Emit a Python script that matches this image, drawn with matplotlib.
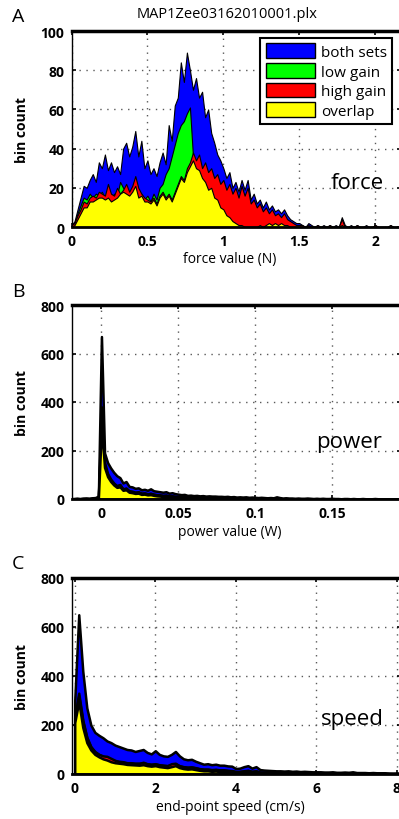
import numpy as np
import matplotlib
matplotlib.use('Agg')
import matplotlib.pyplot as plt
from matplotlib.patches import Patch

plt.rcParams['font.family'] = ['Open Sans', 'DejaVu Sans']

W, H = 399, 820

### series names / colours
names = ['both sets', 'low gain', 'high gain', 'overlap']
colors = ['#0000ff', '#00ff00', '#ff0000', '#ffff00']

### A: force histogram, bins of 0.02 N
force_bins = np.round(np.arange(108) * 0.02, 2)
force_both = [1, 3, 9, 15, 21, 20, 24, 27, 23, 33, 30, 37, 29, 33, 28, 31, 27, 40, 43, 36,
              41, 49, 36, 44, 30, 34, 27, 30, 26, 33, 38, 32, 52, 44, 62, 66, 84, 74, 89, 80,
              70, 76, 66, 69, 56, 60, 48, 43, 37, 34, 30, 25, 28, 20, 23, 18, 24, 19, 24, 14,
              17, 12, 14, 10, 13, 9, 11, 8, 9, 7, 9, 6, 4, 3, 2, 2, 1, 0, 2, 1,
              0, 1, 0, 1, 0, 1, 0, 1, 0, 5, 1, 0, 1, 0, 1, 0, 0, 1, 0, 0,
              1, 0, 0, 0, 0, 1, 0, 0]
force_low = [1, 2, 7, 11, 15, 14, 17, 15, 17, 16, 18, 15, 17, 14, 17, 16, 23, 20, 18, 17,
             19, 22, 16, 17, 14, 16, 13, 17, 14, 20, 22, 27, 30, 36, 42, 48, 52, 54, 58, 61,
             36, 32, 30, 26, 24, 20, 22, 17, 15, 11, 9, 6, 5, 3, 2, 1, 1, 0, 1, 0,
             1, 0, 1, 0, 1, 2, 1, 2, 1, 2, 1, 1, 0, 0, 0, 0, 0, 0, 0, 0,
             0, 0, 0, 0, 0, 0, 0, 0, 0, 1, 0, 0, 0, 0, 0, 0, 0, 0, 0, 0,
             0, 0, 0, 0, 0, 0, 0, 0]
force_high = [1, 2, 6, 9, 13, 12, 15, 16, 15, 18, 17, 16, 22, 17, 16, 20, 17, 19, 22, 18,
              21, 26, 20, 17, 15, 14, 13, 15, 12, 16, 18, 15, 17, 14, 18, 22, 26, 24, 30, 33,
              38, 34, 37, 30, 33, 28, 30, 25, 27, 22, 24, 19, 22, 17, 20, 15, 21, 16, 20, 12,
              14, 10, 12, 8, 10, 7, 9, 6, 7, 5, 7, 4, 3, 2, 1, 1, 1, 0, 1, 0,
              0, 1, 0, 0, 0, 1, 0, 0, 0, 4, 0, 0, 0, 0, 1, 0, 0, 0, 0, 0,
              1, 0, 0, 0, 0, 1, 0, 0]
force_overlap = [0, 1, 4, 7, 10, 10, 13, 13, 14, 15, 15, 14, 15, 13, 14, 15, 17, 18, 17, 16,
                 18, 21, 15, 16, 13, 13, 12, 14, 11, 15, 17, 14, 16, 13, 17, 21, 25, 23, 28, 31,
                 34, 30, 29, 25, 23, 19, 20, 15, 14, 10, 9, 6, 5, 3, 2, 1, 1, 0, 0, 0,
                 0, 0, 1, 0, 1, 2, 1, 2, 1, 2, 1, 1, 0, 0, 0, 0, 0, 0, 0, 0,
                 0, 0, 0, 0, 0, 0, 0, 0, 0, 1, 0, 0, 0, 0, 0, 0, 0, 0, 0, 0,
                 0, 0, 0, 0, 0, 0, 0, 0]

### B: power histogram, bins of 0.002 W
power_bins = np.round(-0.02 + np.arange(108) * 0.002, 3)
power_both = [2, 2, 3, 2, 3, 4, 3, 5, 6, 12,
              670, 190, 150, 128, 110, 96, 88, 66, 72, 52,
              50, 44, 46, 38, 40, 36, 42, 34, 32, 30,
              28, 30, 24, 26, 22, 20, 18, 19, 15, 16,
              14, 15, 13, 14, 12, 13, 12, 12, 11, 11,
              10, 11, 9, 10, 8, 9, 8, 9, 7, 8,
              7, 6, 7, 6, 5, 6, 5, 9, 6, 4,
              5, 4, 4, 3, 4, 3, 3, 4, 3, 2,
              3, 2, 3, 2, 2, 3, 2, 2, 1, 2,
              2, 1, 2, 1, 1, 2, 1, 1, 1, 2,
              1, 1, 1, 1, 0, 1, 1, 0]
power_low = [1, 1, 2, 1, 2, 2, 2, 3, 4, 8,
             380, 150, 105, 82, 66, 55, 58, 42, 45, 34,
             32, 28, 30, 24, 25, 22, 24, 20, 18, 17,
             15, 16, 13, 13, 11, 11, 9, 9, 8, 8,
             7, 7, 6, 6, 5, 6, 5, 5, 4, 5,
             4, 4, 4, 3, 4, 3, 3, 3, 3, 2,
             3, 2, 3, 2, 2, 2, 2, 3, 2, 1,
             2, 1, 1, 1, 1, 1, 1, 1, 1, 0,
             1, 1, 0, 1, 1, 0, 1, 0, 0, 1,
             0, 0, 1, 0, 0, 1, 0, 0, 0, 0,
             0, 0, 0, 0, 0, 0, 0, 0]
power_high = [1, 1, 1, 1, 2, 2, 1, 2, 3, 6,
              320, 140, 98, 78, 62, 54, 60, 40, 44, 32,
              30, 27, 28, 23, 24, 21, 22, 19, 17, 16,
              14, 15, 12, 12, 10, 10, 9, 8, 8, 7,
              7, 6, 6, 5, 5, 5, 5, 4, 4, 4,
              4, 3, 3, 3, 3, 3, 2, 3, 2, 2,
              2, 2, 2, 2, 1, 2, 2, 3, 1, 1,
              1, 1, 1, 1, 1, 0, 1, 1, 0, 1,
              0, 1, 0, 0, 1, 0, 0, 0, 1, 0,
              0, 0, 0, 0, 1, 0, 0, 0, 0, 0,
              0, 0, 0, 0, 0, 0, 0, 0]
power_overlap = [0, 0, 1, 0, 1, 1, 1, 1, 2, 4,
                 300, 130, 92, 72, 58, 48, 50, 36, 38, 28,
                 26, 23, 24, 19, 20, 17, 18, 15, 13, 12,
                 10, 10, 8, 8, 6, 6, 5, 4, 4, 3,
                 3, 3, 2, 2, 2, 2, 1, 1, 1, 1,
                 1, 1, 1, 1, 1, 0, 1, 1, 0, 1,
                 0, 1, 0, 0, 0, 0, 1, 0, 0, 0,
                 0, 0, 0, 0, 0, 0, 0, 0, 0, 0,
                 0, 0, 0, 0, 0, 0, 0, 0, 0, 0,
                 0, 0, 0, 0, 0, 0, 0, 0, 0, 0,
                 0, 0, 0, 0, 0, 0, 0, 0]

### C: speed histogram, bins of 0.1 cm/s
speed_bins = np.round(np.arange(82) * 0.1, 1)
speed_both = [300, 650, 420, 270, 200, 170, 158, 148, 135, 128,
              118, 112, 106, 100, 98, 92, 96, 100, 88, 82,
              95, 80, 74, 72, 80, 92, 74, 62, 58, 60,
              52, 46, 40, 42, 38, 40, 36, 36, 33, 32,
              22, 24, 30, 34, 24, 30, 18, 16, 15, 14,
              13, 13, 12, 13, 11, 12, 10, 11, 10, 9,
              9, 9, 8, 8, 9, 7, 7, 8, 7, 9,
              6, 6, 6, 5, 6, 5, 5, 5, 4, 4,
              4, 4]
speed_low = [230, 330, 220, 150, 112, 92, 80, 72, 66, 58,
             54, 52, 50, 46, 46, 44, 44, 46, 42, 40,
             42, 38, 36, 34, 38, 42, 34, 30, 28, 29,
             26, 22, 20, 20, 18, 19, 17, 17, 15, 14,
             10, 11, 13, 15, 11, 13, 8, 7, 7, 6,
             6, 6, 5, 6, 5, 5, 4, 5, 4, 4,
             4, 4, 3, 3, 4, 3, 3, 3, 3, 4,
             2, 2, 2, 2, 2, 2, 2, 2, 2, 1,
             2, 1]
speed_high = [220, 320, 215, 148, 110, 90, 80, 74, 72, 64,
              56, 50, 48, 45, 44, 43, 43, 48, 41, 39,
              41, 37, 35, 34, 42, 44, 33, 29, 27, 28,
              25, 21, 19, 19, 17, 18, 16, 16, 14, 13,
              9, 10, 12, 14, 10, 12, 7, 7, 6, 6,
              5, 5, 5, 5, 4, 4, 4, 4, 4, 3,
              3, 3, 3, 3, 3, 3, 2, 3, 2, 3,
              2, 2, 2, 2, 2, 1, 2, 1, 1, 1,
              1, 1]
speed_overlap = [210, 295, 190, 128, 98, 80, 70, 62, 57, 50,
                 46, 44, 42, 39, 38, 37, 36, 38, 34, 32,
                 34, 30, 28, 26, 30, 34, 26, 22, 20, 21,
                 18, 15, 13, 13, 11, 12, 10, 10, 8, 7,
                 5, 5, 6, 7, 5, 6, 3, 3, 2, 2,
                 2, 2, 2, 2, 1, 2, 1, 1, 1, 1,
                 1, 1, 1, 1, 1, 1, 1, 1, 1, 1,
                 1, 1, 1, 1, 1, 1, 1, 1, 0, 1,
                 0, 1]


def px(x):
    return x / W


def py(y):
    return 1 - y / H


def panel(left, top, right, bottom):
    return fig.add_axes([px(left), py(bottom), px(right - left), (bottom - top) / H])


def style(ax, xt, xtl, yt):
    ax.set_xticks(xt)
    ax.set_xticklabels(xtl)
    ax.set_yticks(yt)
    ax.set_yticklabels([str(v) for v in yt])
    ax.tick_params(direction='in', top=True, right=True, length=3, width=1.2,
                   labelsize=10, pad=5)
    for lab in ax.get_xticklabels() + ax.get_yticklabels():
        lab.set_fontweight('bold')
    ax.grid(True, ls=(0, (1, 4)), color='0.35', lw=1.0)
    ax.set_axisbelow(True)
    ax.spines['top'].set_linewidth(2.5)
    ax.spines['bottom'].set_linewidth(2.0)
    ax.spines['left'].set_linewidth(1.0)
    ax.spines['right'].set_linewidth(1.0)


def draw(ax, x, series, lw):
    for y, c in zip(series, colors):
        ax.fill_between(x, 0, y, facecolor=c, edgecolor='k', lw=lw)


fig = plt.figure(figsize=(W / 100, H / 100), dpi=100)

### A force
ax1 = panel(71.5, 32, 401, 228)
draw(ax1, force_bins, [force_both, force_low, force_high, force_overlap], 0.8)
ax1.set_xlim(0, 2.17)
ax1.set_ylim(0, 100)
style(ax1, [0, 0.5, 1, 1.5, 2], ['0', '0.5', '1', '1.5', '2'], [0, 20, 40, 60, 80, 100])
ax1.text(1.88, 20, 'force', fontsize=16, ha='center', va='baseline')
handles = [Patch(facecolor=c, edgecolor='k', lw=1) for c in colors]
leg = ax1.legend(handles, names, loc='upper right', bbox_to_anchor=(0.973, 0.964),
                 fontsize=11, handlelength=3.2, handleheight=1.1, labelspacing=0.2,
                 handletextpad=0.4, borderpad=0.35, borderaxespad=0,
                 fancybox=False, edgecolor='k', framealpha=1)
leg.get_frame().set_linewidth(1.5)

### B power
ax2 = panel(71.5, 306, 401, 500)
draw(ax2, power_bins, [power_both, power_low, power_high, power_overlap], 1.8)
ax2.set_xlim(-0.0195, 0.195)
ax2.set_ylim(0, 800)
style(ax2, [0, 0.05, 0.1, 0.15], ['0', '0.05', '0.1', '0.15'], [0, 200, 400, 600, 800])
ax2.text(0.161, 214, 'power', fontsize=16, ha='center', va='baseline')

### C speed
ax3 = panel(71.5, 579, 401, 775)
draw(ax3, speed_bins, [speed_both, speed_low, speed_high, speed_overlap], 1.8)
ax3.set_xlim(-0.08, 8.1)
ax3.set_ylim(0, 800)
style(ax3, [0, 2, 4, 6, 8], ['0', '2', '4', '6', '8'], [0, 200, 400, 600, 800])
ax3.text(6.89, 204, 'speed', fontsize=16, ha='center', va='baseline')

### texts
fig.text(px(227), py(15), 'MAP1Zee03162010001.plx', fontsize=10.5, ha='center', va='center')
for lab, y in zip(['A', 'B', 'C'], [17, 292, 564]):
    fig.text(px(18), py(y), lab, fontsize=14, ha='center', va='center')
for y in [130, 403, 677]:
    fig.text(px(22), py(y), 'bin count', fontsize=10, fontweight='bold',
             rotation=90, ha='center', va='center')
for lab, y in zip(['force value (N)', 'power value (W)', 'end-point speed (cm/s)'],
                  [260, 533, 808]):
    fig.text(px(230), py(y), lab, fontsize=10, ha='center', va='center')

fig.savefig('out.png', dpi=100)
